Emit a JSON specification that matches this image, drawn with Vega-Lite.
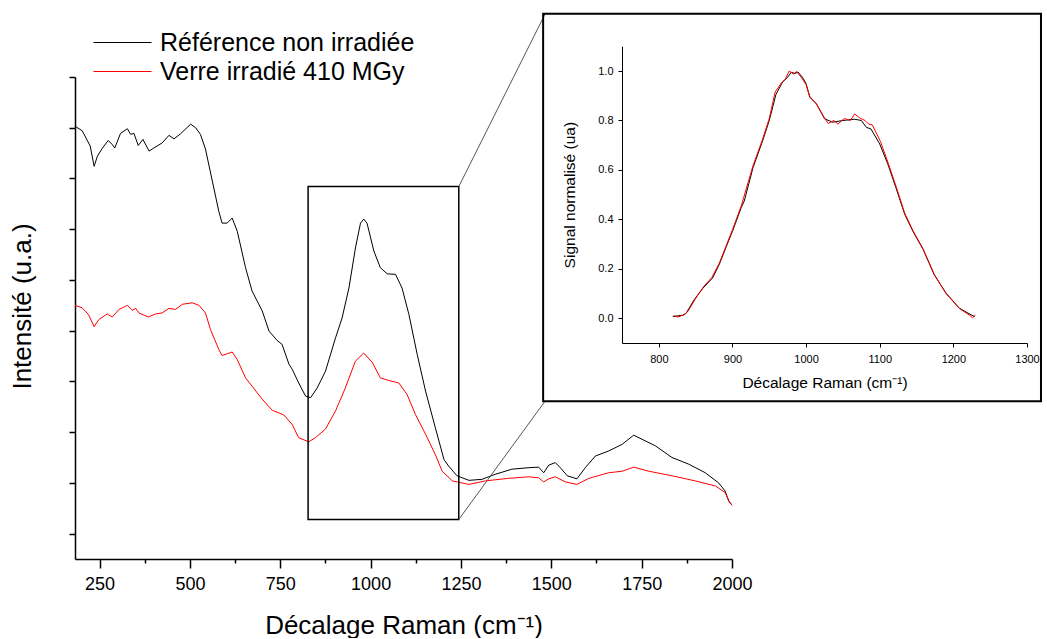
{
  "$schema": "https://vega.github.io/schema/vega-lite/v6.json",
  "background": "white",
  "padding": {"left": 9, "top": 12, "right": 0, "bottom": 0},
  "spacing": -211,
  "align": "none",
  "bounds": "full",
  "config": {
    "font": "Liberation Sans",
    "view": {"stroke": null},
    "axis": {"grid": false, "domainColor": "black", "tickColor": "black", "labelColor": "black", "titleColor": "black", "titleFontWeight": "normal", "labelFont": "Liberation Sans", "titleFont": "Liberation Sans"},
    "legend": {"labelFont": "Liberation Sans"}
  },
  "datasets": {
    "spectra": [
      {"shift": 182, "intensity": 9.03, "series": "Référence non irradiée"},
      {"shift": 202, "intensity": 8.94, "series": "Référence non irradiée"},
      {"shift": 224, "intensity": 8.64, "series": "Référence non irradiée"},
      {"shift": 235, "intensity": 8.24, "series": "Référence non irradiée"},
      {"shift": 244, "intensity": 8.44, "series": "Référence non irradiée"},
      {"shift": 258, "intensity": 8.60, "series": "Référence non irradiée"},
      {"shift": 274, "intensity": 8.75, "series": "Référence non irradiée"},
      {"shift": 285, "intensity": 8.67, "series": "Référence non irradiée"},
      {"shift": 292, "intensity": 8.60, "series": "Référence non irradiée"},
      {"shift": 308, "intensity": 8.89, "series": "Référence non irradiée"},
      {"shift": 327, "intensity": 8.98, "series": "Référence non irradiée"},
      {"shift": 336, "intensity": 8.87, "series": "Référence non irradiée"},
      {"shift": 345, "intensity": 8.89, "series": "Référence non irradiée"},
      {"shift": 357, "intensity": 8.65, "series": "Référence non irradiée"},
      {"shift": 370, "intensity": 8.77, "series": "Référence non irradiée"},
      {"shift": 387, "intensity": 8.54, "series": "Référence non irradiée"},
      {"shift": 400, "intensity": 8.60, "series": "Référence non irradiée"},
      {"shift": 423, "intensity": 8.70, "series": "Référence non irradiée"},
      {"shift": 442, "intensity": 8.85, "series": "Référence non irradiée"},
      {"shift": 456, "intensity": 8.78, "series": "Référence non irradiée"},
      {"shift": 474, "intensity": 8.88, "series": "Référence non irradiée"},
      {"shift": 502, "intensity": 9.07, "series": "Référence non irradiée"},
      {"shift": 516, "intensity": 9.00, "series": "Référence non irradiée"},
      {"shift": 529, "intensity": 8.87, "series": "Référence non irradiée"},
      {"shift": 543, "intensity": 8.58, "series": "Référence non irradiée"},
      {"shift": 562, "intensity": 7.95, "series": "Référence non irradiée"},
      {"shift": 580, "intensity": 7.35, "series": "Référence non irradiée"},
      {"shift": 589, "intensity": 7.12, "series": "Référence non irradiée"},
      {"shift": 603, "intensity": 7.12, "series": "Référence non irradiée"},
      {"shift": 617, "intensity": 7.22, "series": "Référence non irradiée"},
      {"shift": 631, "intensity": 6.96, "series": "Référence non irradiée"},
      {"shift": 654, "intensity": 6.24, "series": "Référence non irradiée"},
      {"shift": 672, "intensity": 5.78, "series": "Référence non irradiée"},
      {"shift": 700, "intensity": 5.39, "series": "Référence non irradiée"},
      {"shift": 719, "intensity": 4.99, "series": "Référence non irradiée"},
      {"shift": 741, "intensity": 4.81, "series": "Référence non irradiée"},
      {"shift": 755, "intensity": 4.73, "series": "Référence non irradiée"},
      {"shift": 774, "intensity": 4.34, "series": "Référence non irradiée"},
      {"shift": 783, "intensity": 4.24, "series": "Référence non irradiée"},
      {"shift": 801, "intensity": 3.97, "series": "Référence non irradiée"},
      {"shift": 820, "intensity": 3.71, "series": "Référence non irradiée"},
      {"shift": 834, "intensity": 3.68, "series": "Référence non irradiée"},
      {"shift": 852, "intensity": 3.87, "series": "Référence non irradiée"},
      {"shift": 875, "intensity": 4.20, "series": "Référence non irradiée"},
      {"shift": 903, "intensity": 4.86, "series": "Référence non irradiée"},
      {"shift": 921, "intensity": 5.25, "series": "Référence non irradiée"},
      {"shift": 940, "intensity": 5.84, "series": "Référence non irradiée"},
      {"shift": 958, "intensity": 6.63, "series": "Référence non irradiée"},
      {"shift": 972, "intensity": 7.12, "series": "Référence non irradiée"},
      {"shift": 981, "intensity": 7.20, "series": "Référence non irradiée"},
      {"shift": 990, "intensity": 7.12, "series": "Référence non irradiée"},
      {"shift": 1009, "intensity": 6.57, "series": "Référence non irradiée"},
      {"shift": 1027, "intensity": 6.24, "series": "Référence non irradiée"},
      {"shift": 1046, "intensity": 6.12, "series": "Référence non irradiée"},
      {"shift": 1069, "intensity": 6.11, "series": "Référence non irradiée"},
      {"shift": 1087, "intensity": 5.84, "series": "Référence non irradiée"},
      {"shift": 1106, "intensity": 5.32, "series": "Référence non irradiée"},
      {"shift": 1129, "intensity": 4.53, "series": "Référence non irradiée"},
      {"shift": 1152, "intensity": 3.81, "series": "Référence non irradiée"},
      {"shift": 1179, "intensity": 3.09, "series": "Référence non irradiée"},
      {"shift": 1203, "intensity": 2.46, "series": "Référence non irradiée"},
      {"shift": 1216, "intensity": 2.33, "series": "Référence non irradiée"},
      {"shift": 1239, "intensity": 2.14, "series": "Référence non irradiée"},
      {"shift": 1272, "intensity": 2.05, "series": "Référence non irradiée"},
      {"shift": 1308, "intensity": 2.07, "series": "Référence non irradiée"},
      {"shift": 1345, "intensity": 2.17, "series": "Référence non irradiée"},
      {"shift": 1391, "intensity": 2.27, "series": "Référence non irradiée"},
      {"shift": 1438, "intensity": 2.30, "series": "Référence non irradiée"},
      {"shift": 1465, "intensity": 2.31, "series": "Référence non irradiée"},
      {"shift": 1479, "intensity": 2.20, "series": "Référence non irradiée"},
      {"shift": 1493, "intensity": 2.35, "series": "Référence non irradiée"},
      {"shift": 1511, "intensity": 2.40, "series": "Référence non irradiée"},
      {"shift": 1525, "intensity": 2.30, "series": "Référence non irradiée"},
      {"shift": 1544, "intensity": 2.14, "series": "Référence non irradiée"},
      {"shift": 1571, "intensity": 2.08, "series": "Référence non irradiée"},
      {"shift": 1594, "intensity": 2.30, "series": "Référence non irradiée"},
      {"shift": 1622, "intensity": 2.53, "series": "Référence non irradiée"},
      {"shift": 1659, "intensity": 2.63, "series": "Référence non irradiée"},
      {"shift": 1696, "intensity": 2.76, "series": "Référence non irradiée"},
      {"shift": 1728, "intensity": 2.94, "series": "Référence non irradiée"},
      {"shift": 1751, "intensity": 2.86, "series": "Référence non irradiée"},
      {"shift": 1788, "intensity": 2.73, "series": "Référence non irradiée"},
      {"shift": 1834, "intensity": 2.50, "series": "Référence non irradiée"},
      {"shift": 1880, "intensity": 2.37, "series": "Référence non irradiée"},
      {"shift": 1926, "intensity": 2.20, "series": "Référence non irradiée"},
      {"shift": 1963, "intensity": 2.00, "series": "Référence non irradiée"},
      {"shift": 1981, "intensity": 1.84, "series": "Référence non irradiée"},
      {"shift": 1991, "intensity": 1.64, "series": "Référence non irradiée"},
      {"shift": 2000, "intensity": 1.56, "series": "Référence non irradiée"},
      {"shift": 182, "intensity": 5.50, "series": "Verre irradié 410 MGy"},
      {"shift": 202, "intensity": 5.45, "series": "Verre irradié 410 MGy"},
      {"shift": 219, "intensity": 5.32, "series": "Verre irradié 410 MGy"},
      {"shift": 235, "intensity": 5.08, "series": "Verre irradié 410 MGy"},
      {"shift": 248, "intensity": 5.22, "series": "Verre irradié 410 MGy"},
      {"shift": 271, "intensity": 5.33, "series": "Verre irradié 410 MGy"},
      {"shift": 285, "intensity": 5.27, "series": "Verre irradié 410 MGy"},
      {"shift": 304, "intensity": 5.42, "series": "Verre irradié 410 MGy"},
      {"shift": 327, "intensity": 5.50, "series": "Verre irradié 410 MGy"},
      {"shift": 340, "intensity": 5.40, "series": "Verre irradié 410 MGy"},
      {"shift": 350, "intensity": 5.44, "series": "Verre irradié 410 MGy"},
      {"shift": 359, "intensity": 5.35, "series": "Verre irradié 410 MGy"},
      {"shift": 385, "intensity": 5.27, "series": "Verre irradié 410 MGy"},
      {"shift": 405, "intensity": 5.33, "series": "Verre irradié 410 MGy"},
      {"shift": 423, "intensity": 5.35, "series": "Verre irradié 410 MGy"},
      {"shift": 442, "intensity": 5.44, "series": "Verre irradié 410 MGy"},
      {"shift": 460, "intensity": 5.42, "series": "Verre irradié 410 MGy"},
      {"shift": 479, "intensity": 5.52, "series": "Verre irradié 410 MGy"},
      {"shift": 506, "intensity": 5.55, "series": "Verre irradié 410 MGy"},
      {"shift": 525, "intensity": 5.50, "series": "Verre irradié 410 MGy"},
      {"shift": 543, "intensity": 5.35, "series": "Verre irradié 410 MGy"},
      {"shift": 557, "intensity": 5.02, "series": "Verre irradié 410 MGy"},
      {"shift": 580, "intensity": 4.63, "series": "Verre irradié 410 MGy"},
      {"shift": 589, "intensity": 4.51, "series": "Verre irradié 410 MGy"},
      {"shift": 617, "intensity": 4.58, "series": "Verre irradié 410 MGy"},
      {"shift": 631, "intensity": 4.43, "series": "Verre irradié 410 MGy"},
      {"shift": 654, "intensity": 4.07, "series": "Verre irradié 410 MGy"},
      {"shift": 700, "intensity": 3.65, "series": "Verre irradié 410 MGy"},
      {"shift": 728, "intensity": 3.43, "series": "Verre irradié 410 MGy"},
      {"shift": 760, "intensity": 3.34, "series": "Verre irradié 410 MGy"},
      {"shift": 783, "intensity": 3.15, "series": "Verre irradié 410 MGy"},
      {"shift": 801, "intensity": 2.89, "series": "Verre irradié 410 MGy"},
      {"shift": 829, "intensity": 2.81, "series": "Verre irradié 410 MGy"},
      {"shift": 847, "intensity": 2.89, "series": "Verre irradié 410 MGy"},
      {"shift": 875, "intensity": 3.06, "series": "Verre irradié 410 MGy"},
      {"shift": 903, "intensity": 3.42, "series": "Verre irradié 410 MGy"},
      {"shift": 930, "intensity": 3.87, "series": "Verre irradié 410 MGy"},
      {"shift": 958, "intensity": 4.40, "series": "Verre irradié 410 MGy"},
      {"shift": 981, "intensity": 4.56, "series": "Verre irradié 410 MGy"},
      {"shift": 1005, "intensity": 4.37, "series": "Verre irradié 410 MGy"},
      {"shift": 1027, "intensity": 4.07, "series": "Verre irradié 410 MGy"},
      {"shift": 1050, "intensity": 4.02, "series": "Verre irradié 410 MGy"},
      {"shift": 1078, "intensity": 3.97, "series": "Verre irradié 410 MGy"},
      {"shift": 1101, "intensity": 3.74, "series": "Verre irradié 410 MGy"},
      {"shift": 1124, "intensity": 3.35, "series": "Verre irradié 410 MGy"},
      {"shift": 1152, "intensity": 2.96, "series": "Verre irradié 410 MGy"},
      {"shift": 1179, "intensity": 2.56, "series": "Verre irradié 410 MGy"},
      {"shift": 1198, "intensity": 2.23, "series": "Verre irradié 410 MGy"},
      {"shift": 1226, "intensity": 2.04, "series": "Verre irradié 410 MGy"},
      {"shift": 1272, "intensity": 1.97, "series": "Verre irradié 410 MGy"},
      {"shift": 1318, "intensity": 2.04, "series": "Verre irradié 410 MGy"},
      {"shift": 1382, "intensity": 2.09, "series": "Verre irradié 410 MGy"},
      {"shift": 1438, "intensity": 2.12, "series": "Verre irradié 410 MGy"},
      {"shift": 1465, "intensity": 2.10, "series": "Verre irradié 410 MGy"},
      {"shift": 1479, "intensity": 2.02, "series": "Verre irradié 410 MGy"},
      {"shift": 1493, "intensity": 2.08, "series": "Verre irradié 410 MGy"},
      {"shift": 1511, "intensity": 2.12, "series": "Verre irradié 410 MGy"},
      {"shift": 1539, "intensity": 2.02, "series": "Verre irradié 410 MGy"},
      {"shift": 1571, "intensity": 1.97, "series": "Verre irradié 410 MGy"},
      {"shift": 1604, "intensity": 2.09, "series": "Verre irradié 410 MGy"},
      {"shift": 1659, "intensity": 2.20, "series": "Verre irradié 410 MGy"},
      {"shift": 1696, "intensity": 2.23, "series": "Verre irradié 410 MGy"},
      {"shift": 1728, "intensity": 2.31, "series": "Verre irradié 410 MGy"},
      {"shift": 1770, "intensity": 2.23, "series": "Verre irradié 410 MGy"},
      {"shift": 1834, "intensity": 2.14, "series": "Verre irradié 410 MGy"},
      {"shift": 1898, "intensity": 2.04, "series": "Verre irradié 410 MGy"},
      {"shift": 1954, "intensity": 1.94, "series": "Verre irradié 410 MGy"},
      {"shift": 1981, "intensity": 1.81, "series": "Verre irradié 410 MGy"},
      {"shift": 1992, "intensity": 1.64, "series": "Verre irradié 410 MGy"},
      {"shift": 2000, "intensity": 1.56, "series": "Verre irradié 410 MGy"}
    ],
    "inset": [
      {"shift": 819, "signal": 0.007, "series": "Référence non irradiée"},
      {"shift": 826, "signal": 0.010, "series": "Référence non irradiée"},
      {"shift": 832, "signal": 0.012, "series": "Référence non irradiée"},
      {"shift": 837, "signal": 0.020, "series": "Référence non irradiée"},
      {"shift": 848, "signal": 0.075, "series": "Référence non irradiée"},
      {"shift": 860, "signal": 0.122, "series": "Référence non irradiée"},
      {"shift": 873, "signal": 0.163, "series": "Référence non irradiée"},
      {"shift": 882, "signal": 0.217, "series": "Référence non irradiée"},
      {"shift": 891, "signal": 0.285, "series": "Référence non irradiée"},
      {"shift": 900, "signal": 0.352, "series": "Référence non irradiée"},
      {"shift": 912, "signal": 0.448, "series": "Référence non irradiée"},
      {"shift": 916, "signal": 0.474, "series": "Référence non irradiée"},
      {"shift": 928, "signal": 0.610, "series": "Référence non irradiée"},
      {"shift": 941, "signal": 0.718, "series": "Référence non irradiée"},
      {"shift": 950, "signal": 0.800, "series": "Référence non irradiée"},
      {"shift": 959, "signal": 0.905, "series": "Référence non irradiée"},
      {"shift": 968, "signal": 0.955, "series": "Référence non irradiée"},
      {"shift": 975, "signal": 0.975, "series": "Référence non irradiée"},
      {"shift": 980, "signal": 0.995, "series": "Référence non irradiée"},
      {"shift": 985, "signal": 0.990, "series": "Référence non irradiée"},
      {"shift": 989, "signal": 0.996, "series": "Référence non irradiée"},
      {"shift": 995, "signal": 0.975, "series": "Référence non irradiée"},
      {"shift": 1000, "signal": 0.949, "series": "Référence non irradiée"},
      {"shift": 1005, "signal": 0.894, "series": "Référence non irradiée"},
      {"shift": 1014, "signal": 0.867, "series": "Référence non irradiée"},
      {"shift": 1025, "signal": 0.807, "series": "Référence non irradiée"},
      {"shift": 1036, "signal": 0.793, "series": "Référence non irradiée"},
      {"shift": 1050, "signal": 0.800, "series": "Référence non irradiée"},
      {"shift": 1066, "signal": 0.805, "series": "Référence non irradiée"},
      {"shift": 1075, "signal": 0.800, "series": "Référence non irradiée"},
      {"shift": 1082, "signal": 0.772, "series": "Référence non irradiée"},
      {"shift": 1088, "signal": 0.766, "series": "Référence non irradiée"},
      {"shift": 1100, "signal": 0.705, "series": "Référence non irradiée"},
      {"shift": 1111, "signal": 0.624, "series": "Référence non irradiée"},
      {"shift": 1122, "signal": 0.528, "series": "Référence non irradiée"},
      {"shift": 1131, "signal": 0.447, "series": "Référence non irradiée"},
      {"shift": 1134, "signal": 0.420, "series": "Référence non irradiée"},
      {"shift": 1145, "signal": 0.352, "series": "Référence non irradiée"},
      {"shift": 1159, "signal": 0.278, "series": "Référence non irradiée"},
      {"shift": 1174, "signal": 0.176, "series": "Référence non irradiée"},
      {"shift": 1190, "signal": 0.102, "series": "Référence non irradiée"},
      {"shift": 1208, "signal": 0.041, "series": "Référence non irradiée"},
      {"shift": 1224, "signal": 0.014, "series": "Référence non irradiée"},
      {"shift": 1229, "signal": 0.007, "series": "Référence non irradiée"},
      {"shift": 820, "signal": 0.010, "series": "Verre irradié 410 MGy"},
      {"shift": 826, "signal": 0.005, "series": "Verre irradié 410 MGy"},
      {"shift": 835, "signal": 0.015, "series": "Verre irradié 410 MGy"},
      {"shift": 840, "signal": 0.030, "series": "Verre irradié 410 MGy"},
      {"shift": 850, "signal": 0.080, "series": "Verre irradié 410 MGy"},
      {"shift": 860, "signal": 0.125, "series": "Verre irradié 410 MGy"},
      {"shift": 872, "signal": 0.165, "series": "Verre irradié 410 MGy"},
      {"shift": 882, "signal": 0.222, "series": "Verre irradié 410 MGy"},
      {"shift": 891, "signal": 0.290, "series": "Verre irradié 410 MGy"},
      {"shift": 900, "signal": 0.358, "series": "Verre irradié 410 MGy"},
      {"shift": 912, "signal": 0.455, "series": "Verre irradié 410 MGy"},
      {"shift": 928, "signal": 0.618, "series": "Verre irradié 410 MGy"},
      {"shift": 941, "signal": 0.725, "series": "Verre irradié 410 MGy"},
      {"shift": 950, "signal": 0.808, "series": "Verre irradié 410 MGy"},
      {"shift": 958, "signal": 0.915, "series": "Verre irradié 410 MGy"},
      {"shift": 966, "signal": 0.950, "series": "Verre irradié 410 MGy"},
      {"shift": 972, "signal": 0.968, "series": "Verre irradié 410 MGy"},
      {"shift": 977, "signal": 1.000, "series": "Verre irradié 410 MGy"},
      {"shift": 983, "signal": 0.988, "series": "Verre irradié 410 MGy"},
      {"shift": 987, "signal": 0.998, "series": "Verre irradié 410 MGy"},
      {"shift": 994, "signal": 0.972, "series": "Verre irradié 410 MGy"},
      {"shift": 1000, "signal": 0.945, "series": "Verre irradié 410 MGy"},
      {"shift": 1005, "signal": 0.897, "series": "Verre irradié 410 MGy"},
      {"shift": 1014, "signal": 0.868, "series": "Verre irradié 410 MGy"},
      {"shift": 1025, "signal": 0.810, "series": "Verre irradié 410 MGy"},
      {"shift": 1030, "signal": 0.788, "series": "Verre irradié 410 MGy"},
      {"shift": 1038, "signal": 0.800, "series": "Verre irradié 410 MGy"},
      {"shift": 1043, "signal": 0.785, "series": "Verre irradié 410 MGy"},
      {"shift": 1052, "signal": 0.808, "series": "Verre irradié 410 MGy"},
      {"shift": 1060, "signal": 0.800, "series": "Verre irradié 410 MGy"},
      {"shift": 1066, "signal": 0.826, "series": "Verre irradié 410 MGy"},
      {"shift": 1073, "signal": 0.810, "series": "Verre irradié 410 MGy"},
      {"shift": 1080, "signal": 0.800, "series": "Verre irradié 410 MGy"},
      {"shift": 1085, "signal": 0.785, "series": "Verre irradié 410 MGy"},
      {"shift": 1090, "signal": 0.782, "series": "Verre irradié 410 MGy"},
      {"shift": 1101, "signal": 0.715, "series": "Verre irradié 410 MGy"},
      {"shift": 1111, "signal": 0.632, "series": "Verre irradié 410 MGy"},
      {"shift": 1122, "signal": 0.535, "series": "Verre irradié 410 MGy"},
      {"shift": 1134, "signal": 0.425, "series": "Verre irradié 410 MGy"},
      {"shift": 1145, "signal": 0.355, "series": "Verre irradié 410 MGy"},
      {"shift": 1159, "signal": 0.280, "series": "Verre irradié 410 MGy"},
      {"shift": 1174, "signal": 0.178, "series": "Verre irradié 410 MGy"},
      {"shift": 1190, "signal": 0.100, "series": "Verre irradié 410 MGy"},
      {"shift": 1208, "signal": 0.040, "series": "Verre irradié 410 MGy"},
      {"shift": 1222, "signal": 0.012, "series": "Verre irradié 410 MGy"},
      {"shift": 1226, "signal": 0.002, "series": "Verre irradié 410 MGy"},
      {"shift": 1230, "signal": 0.013, "series": "Verre irradié 410 MGy"}
    ]
  },
  "hconcat": [
    {
      "width": 657,
      "height": 482,
      "layer": [
        {
          "data": {"name": "spectra"},
          "mark": {"type": "line", "strokeWidth": 1},
          "encoding": {
            "x": {
              "field": "shift", "type": "quantitative",
              "scale": {"domain": [182, 2000], "nice": false, "zero": false},
              "axis": {
                "title": "Décalage Raman (cm⁻¹)",
                "values": [250, 375, 500, 625, 750, 875, 1000, 1125, 1250, 1375, 1500, 1625, 1750, 1875, 2000],
                "format": "d",
                "labelExpr": "datum.value % 250 === 0 ? datum.label : ''",
                "tickSize": {"condition": {"test": "datum.value % 250 === 0", "value": 9}, "value": 4},
                "labelFontSize": 18, "labelPadding": 7, "labelFlush": false, "labelOverlap": false,
                "titleFontSize": 26, "titlePadding": 19,
                "domainWidth": 1.5, "tickWidth": 1.5
              }
            },
            "y": {
              "field": "intensity", "type": "quantitative",
              "scale": {"domain": [0.5, 10], "nice": false, "zero": false},
              "axis": {
                "title": "Intensité (u.a.)",
                "values": [1, 2, 3, 4, 5, 6, 7, 8, 9, 10],
                "labels": false, "tickSize": 6,
                "titleFontSize": 26, "titlePadding": 33, "titleY": 229,
                "domainWidth": 1.5, "tickWidth": 1.5
              }
            },
            "color": {
              "field": "series", "type": "nominal",
              "scale": {"domain": ["Référence non irradiée", "Verre irradié 410 MGy"], "range": ["#000000", "#ff0000"]},
              "legend": {
                "title": null, "orient": "none", "legendX": 32, "legendY": -50,
                "symbolType": "M-2,0H2", "symbolSize": 841, "symbolStrokeWidth": 1.2,
                "labelFontSize": 25, "labelOffset": 22, "labelColor": "black", "labelLimit": 0, "padding": 0, "rowPadding": 0
              }
            }
          }
        },
        {
          "data": {"values": [{"left": 827, "right": 1244, "top": 7.84, "bottom": 1.28}]},
          "mark": {"type": "rect", "fill": "white", "fillOpacity": 0, "stroke": "black", "strokeWidth": 1.5},
          "encoding": {
            "x": {"field": "left", "type": "quantitative", "scale": {"domain": [182, 2000], "nice": false, "zero": false}},
            "x2": {"field": "right"},
            "y": {"field": "top", "type": "quantitative", "scale": {"domain": [0.5, 10], "nice": false, "zero": false}},
            "y2": {"field": "bottom"}
          }
        },
        {
          "data": {"values": [
            {"x_from": 1244, "y_from": 7.84, "x_to": 1483, "y_to": 11.245},
            {"x_from": 1244, "y_from": 1.28, "x_to": 1483, "y_to": 3.612}
          ]},
          "mark": {"type": "rule", "color": "#555555", "strokeWidth": 1},
          "encoding": {
            "x": {"field": "x_from", "type": "quantitative", "scale": {"domain": [182, 2000], "nice": false, "zero": false}},
            "x2": {"field": "x_to"},
            "y": {"field": "y_from", "type": "quantitative", "scale": {"domain": [0.5, 10], "nice": false, "zero": false}},
            "y2": {"field": "y_to"}
          }
        }
      ]
    },
    {
      "width": 405,
      "height": 266,
      "layer": [
        {
          "data": {"name": "inset"},
          "mark": {"type": "line", "strokeWidth": 1},
          "encoding": {
            "x": {
              "field": "shift", "type": "quantitative",
              "scale": {"domain": [750, 1300], "nice": false, "zero": false},
              "axis": {
                "title": "Décalage Raman (cm⁻¹)",
                "values": [800, 900, 1000, 1100, 1200, 1300],
                "format": "d",
                "tickSize": 4, "labelFontSize": 11, "labelPadding": 6, "labelFlush": false, "labelOverlap": false,
                "titleFontSize": 15.5, "titlePadding": 11, "domainWidth": 1, "tickWidth": 1
              }
            },
            "y": {
              "field": "signal", "type": "quantitative",
              "scale": {"domain": [-0.1, 1.1], "range": [266, -30.7], "nice": false, "zero": false},
              "axis": {
                "title": "Signal normalisé (ua)",
                "values": [0, 0.2, 0.4, 0.6, 0.8, 1.0],
                "format": ".1f",
                "tickSize": 4, "labelFontSize": 11, "labelPadding": 5,
                "labelFlush": false, "labelOverlap": false,
                "titleFontSize": 15.5, "titlePadding": 20, "domainWidth": 1, "tickWidth": 1
              }
            },
            "color": {
              "field": "series", "type": "nominal",
              "scale": {"domain": ["Référence non irradiée", "Verre irradié 410 MGy"], "range": ["#000000", "#ff0000"]},
              "legend": null
            }
          }
        },
        {
          "data": {"values": [{"left": 642.9, "right": 1319, "top": 1.2314, "bottom": -0.3358}]},
          "mark": {"type": "rect", "fill": "white", "fillOpacity": 0, "stroke": "black", "strokeWidth": 2},
          "encoding": {
            "x": {"field": "left", "type": "quantitative", "scale": {"domain": [750, 1300], "nice": false, "zero": false}},
            "x2": {"field": "right"},
            "y": {"field": "top", "type": "quantitative", "scale": {"domain": [-0.1, 1.1], "range": [266, -30.7], "nice": false, "zero": false}},
            "y2": {"field": "bottom"}
          }
        }
      ]
    }
  ]
}
